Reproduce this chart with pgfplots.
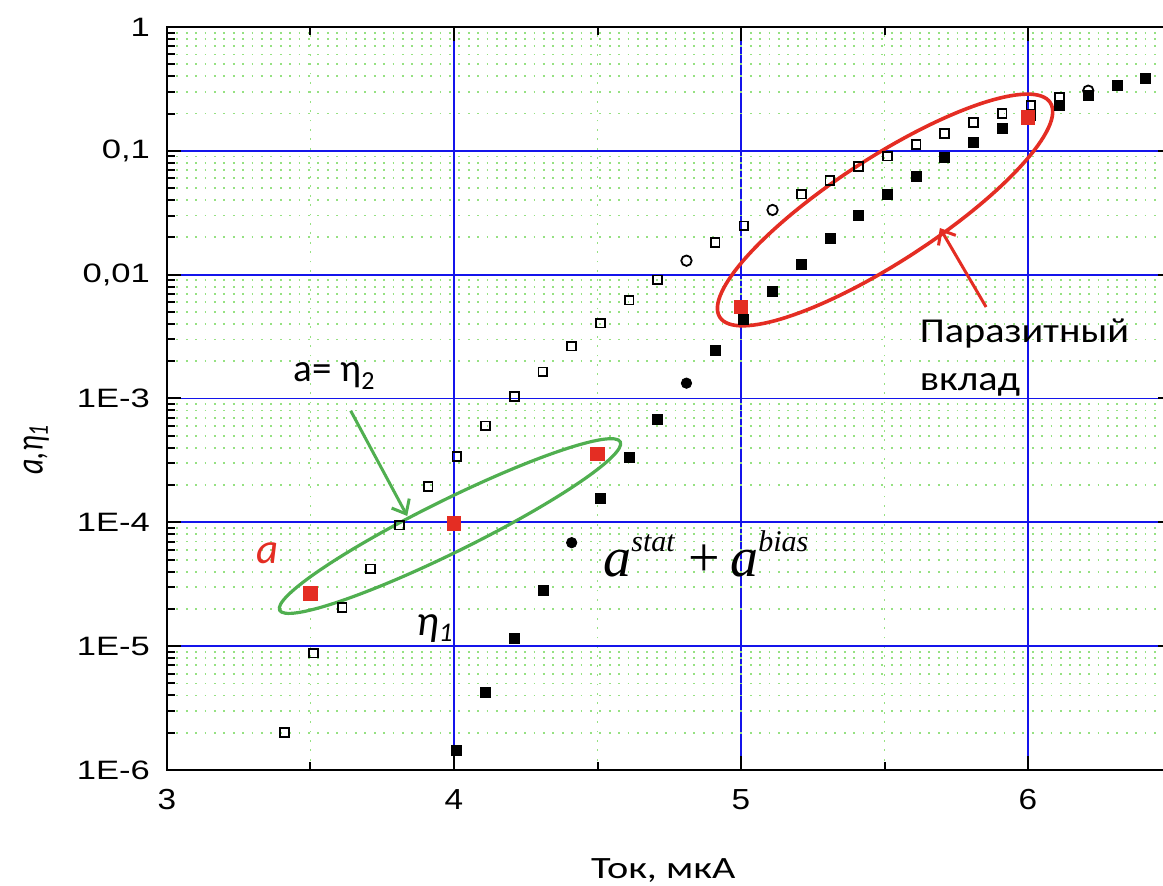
\documentclass[border=0pt]{standalone}
\usepackage{fontspec}
\usepackage{pgfplots}
\pgfplotsset{compat=1.18}
\usetikzlibrary{arrows.meta}
\setmainfont{Liberation Sans}
\newfontfamily\tickfont[FakeStretch=1.3]{Liberation Sans}
\newfontfamily\tickfontx[FakeStretch=1.15]{Liberation Sans}
\newfontfamily\labfont[FakeStretch=1.3]{Carlito}
\newfontfamily\calfont{Carlito}
\newfontfamily\calfontw[FakeStretch=1.15]{Carlito}
\newfontfamily\timesf{Liberation Serif}
\definecolor{gridgreen}{RGB}{150,225,130}
\definecolor{annred}{RGB}{228,45,35}
\definecolor{anngreen}{RGB}{80,175,80}
\definecolor{gridblue}{RGB}{20,20,235}

\pgfplotstableread{
x y
3.41 2.0e-6
3.51 8.8e-6
3.61 2.05e-5
3.71 4.2e-5
3.81 9.5e-5
3.91 1.94e-4
4.01 3.4e-4
4.11 6.0e-4
4.21 1.04e-3
4.31 1.64e-3
4.41 2.65e-3
4.51 4.07e-3
4.61 6.24e-3
4.71 9.06e-3
4.91 0.0181
5.01 0.0248
5.21 0.0448
5.31 0.0574
5.41 0.0745
5.51 0.0908
5.61 0.113
5.71 0.138
5.81 0.169
5.91 0.201
6.01 0.234
6.11 0.270
}\opensq

\pgfplotstableread{
x y
4.81 0.01297
5.11 0.0333
6.21 0.306
}\opencirc

\pgfplotstableread{
x y
4.01 1.45e-6
4.11 4.2e-6
4.21 1.16e-5
4.31 2.84e-5
4.51 1.56e-4
4.61 3.35e-4
4.71 6.8e-4
4.91 2.43e-3
5.01 4.38e-3
5.11 7.38e-3
5.21 0.0122
5.31 0.0196
5.41 0.0299
5.51 0.0445
5.61 0.0626
5.71 0.0887
5.81 0.116
5.91 0.152
6.01 0.195
6.11 0.234
6.21 0.282
6.31 0.336
6.41 0.385
}\fillsq

\pgfplotstableread{
x y
4.41 6.85e-5
4.81 1.33e-3
}\fillcirc

\pgfplotstableread{
x y
3.5 2.67e-5
4.0 9.8e-5
4.5 3.56e-4
5.0 5.5e-3
6.0 0.187
}\redsq

\begin{document}
\begin{tikzpicture}
\begin{axis}[
  scale only axis, width=502.25pt, height=371.5pt,
  xmin=3, xmax=6.5, ymode=log, ymin=1e-6, ymax=1,
  xtick={3,4,5,6}, xticklabels={3,4,5,6},
  minor xtick={3.5,4.5,5.5,6.5},
  ytick={1e-6,1e-5,1e-4,1e-3,1e-2,1e-1,1},
  yticklabels={1E-6,1E-5,1E-4,1E-3,{0,01},{0,1},1},
  minor ytick={2e-6,3e-6,4e-6,5e-6,6e-6,7e-6,8e-6,9e-6,
               2e-5,3e-5,4e-5,5e-5,6e-5,7e-5,8e-5,9e-5,
               2e-4,3e-4,4e-4,5e-4,6e-4,7e-4,8e-4,9e-4,
               2e-3,3e-3,4e-3,5e-3,6e-3,7e-3,8e-3,9e-3,
               0.02,0.03,0.04,0.05,0.06,0.07,0.08,0.09,
               0.2,0.3,0.4,0.5,0.6,0.7,0.8,0.9},
  grid=both,
  major grid style={gridblue, line width=0.9pt},
  minor grid style={gridgreen, line width=0.9pt, dash pattern=on 0.9pt off 3.8pt},
  tick align=inside, xtick pos=both, ytick pos=both,
  major tick length=7pt, minor tick length=3.8pt,
  every tick/.style={black, line width=1pt},
  axis line style={line width=1.3pt},
  x tick label style={font=\fontsize{14.5}{14.5}\tickfontx, yshift=-6pt},
  y tick label style={font=\fontsize{13.3}{13.3}\tickfont, xshift=-5pt},
  xlabel={Ток, мкА},
  xlabel style={font=\fontsize{15.5}{15.5}\labfont, at={(axis description cs:0.494,-0.1467)}, anchor=base},
  ylabel={\scalebox{1}[1.3]{a,η\raisebox{-2pt}{\fontsize{11}{11}\selectfont 1}}},
  ylabel style={font=\fontsize{15}{15}\calfont\itshape, at={(axis description cs:-0.13,0.4307)}, anchor=center},
]
\addplot[only marks, mark=square, mark size=2.2pt, mark options={black, line width=0.9pt}] table {\opensq};
\addplot[only marks, mark=o, mark size=2.6pt, mark options={black, line width=0.9pt}] table {\opencirc};
\addplot[only marks, mark=square*, mark size=2.5pt, mark options={black, fill=black}] table {\fillsq};
\addplot[only marks, mark=*, mark size=2.6pt, mark options={black, fill=black}] table {\fillcirc};
\addplot[only marks, mark=square*, mark size=3.4pt, mark options={draw=annred, fill=annred}] table {\redsq};

\draw[anngreen, line width=1.6pt, rotate around={26.3:(axis cs:3.986,9.33e-5)}] (axis cs:3.986,9.33e-5) ellipse [x radius=95pt, y radius=13pt];
\draw[annred, line width=1.8pt, rotate around={33:(axis cs:5.502,0.0333)}] (axis cs:5.502,0.0333) ellipse [x radius=98.5pt, y radius=26pt];
\draw[anngreen, line width=1.5pt, -{Straight Barb[length=6pt,width=10pt]}] (axis cs:3.640,7.97e-4) -- (axis cs:3.837,1.125e-4);
\draw[annred, line width=1.5pt, -{Straight Barb[length=6pt,width=10pt]}] (axis cs:5.854,5.48e-3) -- (axis cs:5.693,0.0238);

\node[anchor=base west, inner sep=0, font=\fontsize{19.5}{20}\calfont] at (axis cs:3.439,1.36e-3) {a= η\raisebox{-4pt}{\fontsize{13}{13}\selectfont 2}};
\node[anchor=base west, inner sep=0, text=annred, font=\fontsize{21.5}{22}\calfont\itshape] at (axis cs:3.31,4.69e-5) {a};
\node[anchor=base west, inner sep=0, font=\fontsize{21.5}{22}\calfont\itshape] at (axis cs:3.8676,1.23e-5) {η\raisebox{-3.3pt}{\fontsize{13.5}{13.5}\selectfont 1}};
\node[anchor=base west, inner sep=0, font=\fontsize{28}{28}\timesf] at (axis cs:4.519,3.62e-5) {\itshape a\raisebox{12.5pt}{\fontsize{15}{15}\selectfont\itshape stat}\hspace{7pt}\upshape +\hspace{5pt}\itshape a\raisebox{12.5pt}{\fontsize{15}{15}\selectfont\itshape bias}};
\node[anchor=base west, inner sep=0, font=\fontsize{17.5}{17.5}\calfontw] at (axis cs:5.622,2.81e-3) {Паразитный};
\node[anchor=base west, inner sep=0, font=\fontsize{17.5}{17.5}\calfontw] at (axis cs:5.622,1.17e-3) {вклад};

\coordinate (SW) at (rel axis cs:0,0);
\coordinate (NE) at (rel axis cs:1,1);
\end{axis}
\pgfresetboundingbox
\path[use as bounding box] ([xshift=-83.5pt, yshift=-58pt]SW) rectangle ([xshift=-4.25pt, yshift=13.5pt]NE);
\end{tikzpicture}
\end{document}
